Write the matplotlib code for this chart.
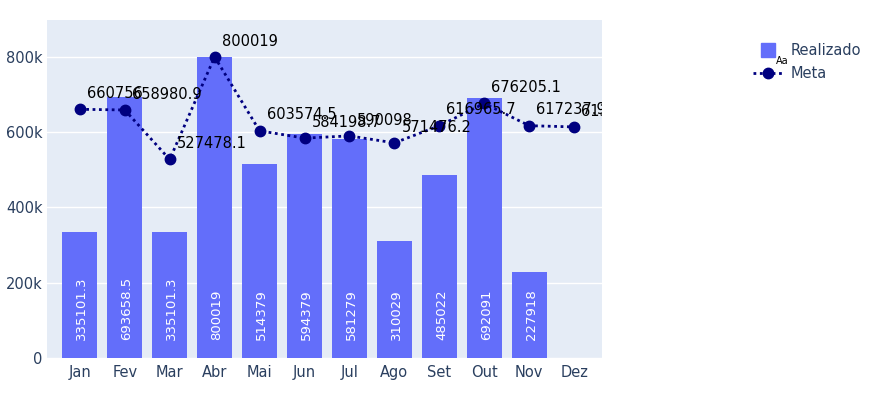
import matplotlib.pyplot as plt
from matplotlib.transforms import offset_copy
from matplotlib.lines import Line2D

meses = ['Jan', 'Fev', 'Mar', 'Abr', 'Mai', 'Jun', 'Jul', 'Ago', 'Set', 'Out', 'Nov', 'Dez']
realizado = [335101.3, 693658.5, 335101.3, 800019, 514379, 594379, 581279, 310029, 485022, 692091, 227918, None]
meta = [660756, 658980.9, 527478.1, 800019, 603574.5, 584198.7, 590098, 571476.2, 616965.7, 676205.1, 617237.9, 613950]
yticks = [0, 200000, 400000, 600000, 800000]
ytick_labels = ['0', '200k', '400k', '600k', '800k']

bar_cor = '#636efa'
meta_cor = '#000080'
fundo = '#e5ecf6'
txt_cor = '#2a3f5f'

fig = plt.figure(figsize=(8.8, 4.12), dpi=100)
ax = fig.add_axes([47/880, 1 - 358/412, (602 - 47)/880, (358 - 20)/412])
ax.set_facecolor(fundo)
for s in ax.spines.values():
    s.set_visible(False)

x = list(range(len(meses)))

### Barras
xb = [i for i, v in zip(x, realizado) if v is not None]
vb = [v for v in realizado if v is not None]
ax.bar(xb, vb, width=0.78, color=bar_cor, zorder=2)
bar_trans = offset_copy(ax.transData, fig=fig, x=1.5, y=13, units='points')
for i, v in zip(xb, vb):
    ax.text(i, 0, str(v), rotation=90, ha='center', va='bottom', color='white',
            fontsize=9.5, transform=bar_trans, zorder=4)

### Linha da meta
ax.plot(x, meta, color=meta_cor, linestyle=(0, (1, 1.3)), linewidth=2,
        marker='o', markersize=7.5, zorder=3)
txt_trans = offset_copy(ax.transData, fig=fig, x=5, y=6, units='points')
for i, v in zip(x, meta):
    ax.text(i, v, str(v), ha='left', va='bottom', color='black', fontsize=10.5,
            transform=txt_trans, clip_on=True, zorder=5)

### Eixos
ax.set_xlim(-0.73, 11.62)
ax.set_ylim(0, 898000)
ax.set_xticks(x)
ax.set_xticklabels(meses)
ax.set_yticks(yticks)
ax.set_yticklabels(ytick_labels)
ax.tick_params(length=0, colors=txt_cor, labelsize=10.5)
ax.tick_params(axis='x', pad=5)
ax.tick_params(axis='y', pad=3)
ax.grid(axis='y', color='white', linewidth=1, zorder=1)
ax.set_axisbelow(True)

### Legenda
handles = [Line2D([0], [0], marker='s', linestyle='none', color=bar_cor, markersize=10),
           Line2D([0], [0], color=meta_cor, linestyle=(0, (1, 1.3)), linewidth=2,
                  marker='o', markersize=7.5)]
fig.legend(handles, ['Realizado', 'Meta'], loc='upper left',
           bbox_to_anchor=(740/880, 1 - 30/412), frameon=False,
           fontsize=10.5, labelcolor=txt_cor, handlelength=2.1, handletextpad=0.5,
           labelspacing=0.55)
fig.text(776/880, 1 - 61/412, 'Aa', fontsize=7, color='black', va='center', zorder=10)

fig.savefig('out.png', dpi=100)
